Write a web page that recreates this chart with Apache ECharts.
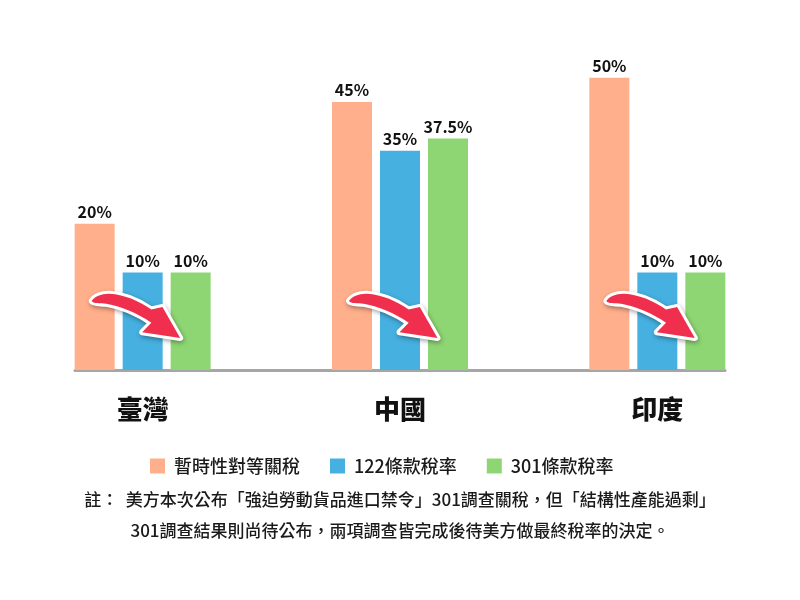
<!DOCTYPE html>
<html>
<head>
<meta charset="utf-8">
<script src="https://cdn.jsdelivr.net/npm/echarts@6/dist/echarts.min.js"></script>
<style>
  html, body { margin: 0; padding: 0; background: #fff; }
  #main { width: 800px; height: 600px; }
</style>
</head>
<body>
<div id="main"></div>
<script>
const countries = ['臺灣', '中國', '印度']
const seriesNames = ['暫時性對等關稅', '122條款稅率', '301條款稅率']
const reciprocal = [20, 45, 50]
const sec122 = [10, 35, 10]
const sec301 = [10, 37.5, 10]
const colors = ['#FFAF8B', '#46B0E0', '#8ED673']
const note = '註：  美方本次公布「強迫勞動貨品進口禁令」301調查關稅，但「結構性產能過剩」\n301調查結果則尚待公布，兩項調查皆完成後待美方做最終稅率的決定。'

const font = '"Noto Sans CJK TC", "Noto Sans", sans-serif'

var chartDom = document.getElementById('main')
var myChart = echarts.init(chartDom)

const makeSeries = (name, data, i) => ({
  name: name,
  type: 'bar',
  data: data,
  barWidth: 40,
  barGap: '20%',
  itemStyle: { color: colors[i] },
  label: {
    show: true,
    position: 'top',
    distance: 4,
    formatter: '{c}%',
    fontFamily: font,
    fontSize: 16,
    fontWeight: 'bold',
    color: '#111'
  }
})

// curved red arrow (orange bar -> green bar); the two leading moves pin the box to 90 x 48
const arrowPath = 'M 0 0 M 90 48 M 0 9 C 3 4.5 10 1.5 18 1.8 C 33 2.5 48 9.5 59.7 17.5 L 70.8 15 L 88.5 46 L 50.5 40.2 L 59.7 30.8 C 46 21.5 30 14.3 14.7 11.8 C 8 11 2 12 0 9 Z'

const arrowShape = (cx, baseY) => ({
  pathData: arrowPath, x: cx - 51, y: baseY - 78, width: 90, height: 48, layout: 'cover'
})

const option = {
  animation: false,
  textStyle: { fontFamily: font },
  color: colors,
  title: {
    text: note,
    left: 'center',
    top: 479,
    textStyle: {
      fontFamily: font,
      fontSize: 17,
      fontWeight: 500,
      color: '#1a1a1a',
      lineHeight: 31,
      align: 'center'
    }
  },
  legend: {
    data: seriesNames,
    left: 145,
    top: 452,
    itemWidth: 15,
    itemHeight: 15,
    itemGap: 30,
    icon: 'rect',
    textStyle: {
      fontFamily: font,
      fontSize: 18,
      fontWeight: 500,
      color: '#1a1a1a',
      padding: [0, 0, 0, 4]
    }
  },
  grid: [
    { left: 14, right: 14, top: 29, bottom: 230 },
    { left: 75, right: 75, top: 29, bottom: 230 }
  ],
  xAxis: [
    {
      type: 'category',
      gridIndex: 0,
      data: countries,
      axisLine: { show: false },
      axisTick: { show: false },
      axisLabel: {
        margin: 26,
        fontFamily: font,
        fontSize: 26,
        fontWeight: 900,
        color: '#111'
      }
    },
    {
      type: 'category',
      gridIndex: 1,
      data: countries,
      axisLine: { show: true, onZero: false, lineStyle: { color: '#A6A6A6', width: 3 } },
      axisTick: { show: false },
      axisLabel: { show: false }
    }
  ],
  yAxis: [
    { type: 'value', gridIndex: 0, min: -10, max: 60, startValue: -10, show: false },
    { type: 'value', gridIndex: 1, show: false }
  ],
  series: [
    makeSeries(seriesNames[0], reciprocal, 0),
    makeSeries(seriesNames[1], sec122, 1),
    makeSeries(seriesNames[2], sec301, 2),
    {
      type: 'custom',
      name: 'arrows',
      z: 10,
      data: countries,
      renderItem: (params, api) => {
        const cx = api.coord([api.value(0), 0])[0]
        const baseY = params.coordSys.y + params.coordSys.height
        return {
          type: 'group',
          children: [
            {
              type: 'path',
              shape: arrowShape(cx, baseY),
              style: {
                fill: '#fff',
                stroke: '#fff',
                lineWidth: 6,
                lineJoin: 'round',
                shadowBlur: 5,
                shadowColor: 'rgba(0,0,0,0.3)',
                shadowOffsetX: 1,
                shadowOffsetY: 2
              }
            },
            {
              type: 'path',
              shape: arrowShape(cx, baseY),
              style: { fill: '#EF2F4D' }
            }
          ]
        }
      }
    }
  ]
}

myChart.setOption(option)
</script>
</body>
</html>
